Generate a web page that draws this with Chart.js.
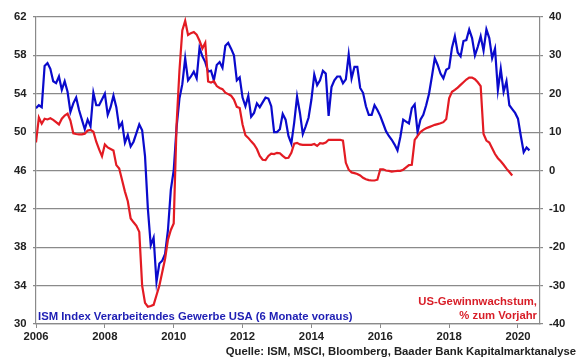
<!DOCTYPE html>
<html><head><meta charset="utf-8">
<script src="https://cdn.jsdelivr.net/npm/chart.js@4.4.1/dist/chart.umd.min.js"></script>
<style>html,body{margin:0;padding:0;background:#fff;} #c{display:block;}</style>
</head><body>
<canvas id="c" width="580" height="359"></canvas>
<script>
const startYear = 2006;
const yearTicks = [2006, 2008, 2010, 2012, 2014, 2016, 2018, 2020];
const leftTicks = [30, 34, 38, 42, 46, 50, 54, 58, 62];
const rightTicks = [-40, -30, -20, -10, 0, 10, 20, 30, 40];

// ISM manufacturing index (monthly, shifted 6 months ahead), from Jan 2006
const ismIndex = [
52.5,52.8,52.6,56.9,57.2,56.6,55.3,55.1,55.8,54.4,55.3,54.2,
52.1,53.0,53.6,52.3,51.3,50.3,51.3,50.6,54.1,52.8,52.8,53.4,
54.0,51.8,52.6,53.8,52.6,50.5,51.0,48.9,49.7,48.5,49.0,49.9,
50.8,50.2,47.5,42.0,38.2,39.0,34.4,36.3,36.6,37.3,39.8,44.0,
46.0,50.5,53.5,55.0,57.7,55.4,55.8,56.3,55.6,58.8,57.9,57.3,
56.3,56.4,55.4,57.0,57.3,56.7,59.0,59.3,58.7,58.0,55.4,55.7,
53.6,52.7,53.8,51.6,52.0,53.0,52.6,53.1,53.6,53.5,52.7,50.0,
50.0,50.3,51.9,51.3,49.6,48.8,51.0,53.7,52.0,49.8,50.6,51.5,
53.4,56.0,54.9,55.4,56.4,56.1,51.7,54.7,55.4,55.8,55.8,55.1,
55.5,58.1,55.6,56.8,56.8,54.6,54.1,52.7,51.8,51.8,52.8,52.3,
51.7,50.9,50.1,49.6,49.2,48.7,48.1,49.5,51.3,51.1,50.9,52.5,
52.9,50.0,51.3,51.8,52.8,54.0,55.8,57.7,57.0,56.1,55.6,56.5,
56.7,58.8,60.0,58.3,57.9,59.5,59.6,60.7,59.8,58.0,58.9,60.0,
58.5,60.7,59.8,57.7,58.7,54.4,56.6,54.2,55.3,52.8,52.4,52.0,
51.4,49.6,47.9,48.4,48.1
];

// US earnings growth, % yoy (monthly), from Jan 2006
const earningsGrowth = [
7.3,13.8,12.2,13.5,13.3,13.6,13.2,12.6,12.0,13.5,14.3,14.8,
13.0,9.7,9.5,9.4,9.4,9.6,10.4,10.6,10.1,7.5,5.5,3.7,
6.8,6.0,5.6,5.2,1.4,0.5,-2.5,-5.5,-8.0,-12.5,-13.5,-14.4,
-16.0,-30.0,-34.5,-35.5,-35.3,-35.0,-32.5,-30.0,-26.5,-23.0,-18.0,-15.5,
-13.8,12.0,26.0,36.5,39.0,35.3,35.8,36.1,35.4,33.8,31.8,33.3,
23.2,22.9,23.3,22.0,21.5,21.2,20.3,19.9,19.5,18.5,16.6,16.3,
12.0,9.2,8.5,7.6,6.8,5.6,3.8,2.8,2.7,3.8,4.4,4.3,
4.6,4.5,3.8,3.2,3.3,4.6,7.0,7.2,6.8,6.7,6.7,6.7,
6.7,6.9,6.4,7.1,7.0,7.3,8.0,8.0,8.0,8.0,8.0,7.8,
2.0,0.2,-0.5,-0.7,-0.9,-1.3,-1.9,-2.3,-2.5,-2.6,-2.6,-2.4,
0.3,0.3,0.0,-0.1,-0.3,-0.2,-0.1,-0.1,0.2,0.8,1.4,1.5,
8.0,9.0,10.0,10.6,11.0,11.3,11.6,11.9,12.1,12.3,12.6,13.4,
18.8,20.5,21.0,21.6,22.3,23.0,23.7,24.2,24.2,23.8,23.0,22.0,
9.5,7.8,7.3,5.8,4.3,3.2,2.4,1.5,0.5,-0.4,-1.3
];

const ismLabel = 'ISM Index Verarbeitendes Gewerbe USA (6 Monate voraus)';
const earnLabel = ['US-Gewinnwachstum,', '% zum Vorjahr'];
const sourceLabel = 'Quelle: ISM, MSCI, Bloomberg, Baader Bank Kapitalmarktanalyse';

const FONT = '"Liberation Sans", Arial, sans-serif';
const toPoints = arr => arr.map((v, i) => ({ x: startYear + i / 12, y: v }));

const textPlugin = {
  id: 'texts',
  beforeDraw(chart) {
    const ctx = chart.ctx;
    ctx.save();
    ctx.fillStyle = '#ffffff';
    ctx.fillRect(0, 0, chart.width, chart.height);
    ctx.restore();
  },
  afterDraw(chart) {
    const ctx = chart.ctx;
    const a = chart.chartArea;
    ctx.save();
    ctx.font = 'bold 11.3px ' + FONT;
    ctx.textBaseline = 'middle';
    ctx.textAlign = 'left';
    ctx.fillStyle = '#1e1eb4';
    ctx.fillText(ismLabel, a.left + 2, a.bottom - 7.5);
    ctx.textAlign = 'right';
    ctx.fillStyle = '#d81e28';
    ctx.fillText(earnLabel[0], a.right - 3, a.bottom - 22.5);
    ctx.fillText(earnLabel[1], a.right - 3, a.bottom - 8.5);
    ctx.fillStyle = '#222222';
    ctx.fillText(sourceLabel, chart.width - 4, chart.height - 7.5);
    ctx.restore();
  }
};

const tickFont = { family: FONT, size: 11.3, weight: 'bold' };

new Chart(document.getElementById('c'), {
  type: 'line',
  data: {
    datasets: [
      {
        label: earnLabel.join(' '),
        data: toPoints(earningsGrowth),
        yAxisID: 'y1',
        borderColor: '#e31b23',
        borderWidth: 2.2,
        pointRadius: 0,
        tension: 0,
        fill: false
      },
      {
        label: ismLabel,
        data: toPoints(ismIndex),
        yAxisID: 'y',
        borderColor: '#0a0acc',
        borderWidth: 2.2,
        pointRadius: 0,
        tension: 0,
        fill: false
      }
    ]
  },
  options: {
    responsive: false,
    animation: false,
    events: [],
    layout: { padding: { top: 17, left: 0, right: 0, bottom: 0 } },
    plugins: { legend: { display: false }, tooltip: { enabled: false } },
    scales: {
      x: {
        type: 'linear',
        min: 2006,
        max: 2020.64,
        afterBuildTicks: s => { s.ticks = yearTicks.map(v => ({ value: v })); },
        afterFit: s => { s.height = 35; },
        grid: { drawOnChartArea: false, drawTicks: true, tickLength: 4, color: '#8a8a8a', lineWidth: 1 },
        border: { display: true, color: '#8a8a8a', width: 1.2 },
        ticks: { font: tickFont, color: '#222', padding: 2, maxRotation: 0, autoSkip: false, callback: v => String(v) }
      },
      y: {
        position: 'left',
        min: 30,
        max: 62,
        afterBuildTicks: s => { s.ticks = leftTicks.map(v => ({ value: v })); },
        afterFit: s => { s.width = 36; },
        grid: { drawTicks: true, tickLength: 3, color: '#8a8a8a', lineWidth: 1.2 },
        border: { display: true, color: '#8a8a8a', width: 1.2 },
        ticks: { font: tickFont, color: '#222', padding: 6.5, callback: v => String(v) }
      },
      y1: {
        position: 'right',
        min: -40,
        max: 40,
        afterBuildTicks: s => { s.ticks = rightTicks.map(v => ({ value: v })); },
        afterFit: s => { s.width = 40; },
        grid: { drawOnChartArea: false, drawTicks: true, tickLength: 3, color: '#8a8a8a', lineWidth: 1.2 },
        border: { display: true, color: '#8a8a8a', width: 1.2 },
        ticks: { font: tickFont, color: '#222', padding: 6, callback: v => String(v) }
      }
    }
  },
  plugins: [textPlugin]
});
</script>
</body></html>
